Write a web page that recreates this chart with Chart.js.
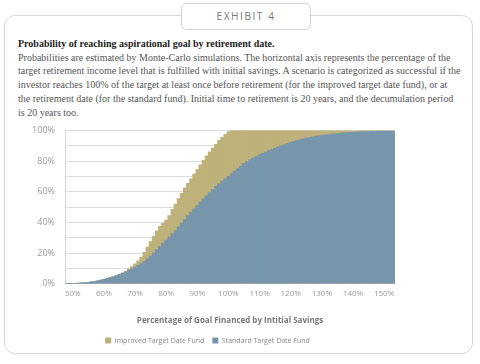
<!DOCTYPE html>
<html>
<head>
<meta charset="utf-8">
<script src="https://cdn.jsdelivr.net/npm/chart.js@4"></script>
<style>
  body { margin: 0; background: #fff; width: 480px; height: 364px; position: relative; overflow: hidden; }
  .card { position: absolute; left: 4px; top: 15px; width: 467px; height: 337px; border: 1px solid #d8d8d8; border-radius: 11px; }
  .tab { position: absolute; left: 181px; top: 3px; width: 128px; height: 25px; border: 1px solid #d4d4d4; border-radius: 6px; background: #fff;
         font-family: "Open Sans", sans-serif; font-size: 10px; letter-spacing: 1.6px; color: #777; text-align: center; line-height: 25px; }
  .txt { position: absolute; left: 18px; top: 37px; width: 427px; font-family: "Liberation Serif", serif; font-size: 10px; line-height: 13.7px; color: #555; }
  .txt b { color: #222; }
  .ln { text-align: justify; text-align-last: justify; white-space: nowrap; }
  .box { position: absolute; left: 20px; top: 115px; width: 384px; height: 239px; }
</style>
</head>
<body>
<div class="card"></div>
<div class="tab">EXHIBIT 4</div>
<div class="txt">
  <div><b>Probability of reaching aspirational goal by retirement date.</b></div>
  <div class="ln">Probabilities are estimated by Monte-Carlo simulations. The horizontal axis represents the percentage of the</div>
  <div class="ln">target retirement income level that is fulfilled with initial savings. A scenario is categorized as successful if the</div>
  <div class="ln">investor reaches 100% of the target at least once before retirement (for the improved target date fund), or at</div>
  <div class="ln">the retirement date (for the standard fund). Initial time to retirement is 20 years, and the decumulation period</div>
  <div>is 20 years too.</div>
</div>
<div class="box"><canvas id="js--chart"></canvas></div>
<script>
// percentage of goal financed by initial savings
const categories = [48, 49, 50, 51, 52, 53, 54, 55, 56, 57, 58, 59, 60, 61, 62, 63, 64, 65, 66, 67, 68, 69,
    70, 71, 72, 73, 74, 75, 76, 77, 78, 79, 80, 81, 82, 83, 84, 85, 86, 87, 88, 89,
    90, 91, 92, 93, 94, 95, 96, 97, 98, 99, 100, 101, 102, 103, 104, 105, 106, 107, 108, 109,
    110, 111, 112, 113, 114, 115, 116, 117, 118, 119, 120, 121, 122, 123, 124, 125, 126, 127, 128, 129,
    130, 131, 132, 133, 134, 135, 136, 137, 138, 139, 140, 141, 142, 143, 144, 145, 146, 147, 148, 149,
    150, 151, 152, 153];

const standard = [0.1, 0.1, 0.2, 0.3, 0.4, 0.6, 0.8, 1.0, 1.3, 1.6, 2.0, 2.4, 2.9, 3.4, 4.0, 4.6, 5.3, 6.1, 6.9, 7.8, 8.8, 9.8,
    10.9, 12.0, 13.1, 14.7, 16.3, 18.0, 20.1, 22.3, 24.5, 26.5, 28.5, 30.5, 32.7, 34.9, 37.1, 39.6, 42.0, 44.5, 46.7, 48.9,
    51.0, 53.2, 55.4, 57.5, 59.5, 61.5, 63.5, 65.2, 66.9, 68.5, 70.0, 71.8, 73.5, 75.1, 76.8, 78.5, 79.7, 80.9, 82.0, 83.0,
    84.0, 85.0, 85.9, 86.8, 87.7, 88.5, 89.3, 90.1, 90.8, 91.6, 92.3, 92.9, 93.5, 94.0, 94.5, 95.0, 95.4, 95.8, 96.1, 96.5,
    96.8, 97.1, 97.3, 97.6, 97.8, 98.0, 98.2, 98.4, 98.5, 98.7, 98.8, 98.9, 99.0, 99.1, 99.2, 99.3, 99.4, 99.4, 99.5, 99.5,
    99.6, 99.6, 99.7, 99.7];

const improved = [0.1, 0.1, 0.2, 0.3, 0.4, 0.6, 0.8, 1.0, 1.3, 1.6, 2.0, 2.4, 2.9, 3.4, 4.0, 4.7, 5.4, 6.2, 7.1, 8.2, 9.6, 11.2,
    13.0, 15.0, 17.5, 20.5, 24.0, 27.5, 31.0, 34.5, 37.5, 39.5, 41.5, 44.5, 48.5, 52.0, 55.5, 59.0, 62.5, 65.5, 68.5, 71.5,
    74.5, 77.5, 80.5, 83.5, 86.0, 88.5, 91.0, 93.5, 95.5, 97.5, 99.2, 100, 100, 100, 100, 100, 100, 100, 100, 100,
    100, 100, 100, 100, 100, 100, 100, 100, 100, 100, 100, 100, 100, 100, 100, 100, 100, 100, 100, 100,
    100, 100, 100, 100, 100, 100, 100, 100, 100, 100, 100, 100, 100, 100, 100, 100, 100, 100, 100, 100,
    100, 100, 100, 100];

const xTicks = [50, 60, 70, 80, 90, 100, 110, 120, 130, 140, 150];
const yTicks = [0, 20, 40, 60, 80, 100];

const gold = 'rgb(190, 177, 122)';
const blue = 'rgb(119, 150, 171)';

const data = {
    labels: categories,
    datasets: [
        {
            label: 'Standard Target Date Fund',
            data: standard,
            backgroundColor: blue,
            grouped: false,
            barPercentage: 1,
            categoryPercentage: 1,
            borderWidth: 0
        },
        {
            label: 'Improved Target Date Fund',
            data: improved,
            backgroundColor: gold,
            grouped: false,
            barPercentage: 1,
            categoryPercentage: 1,
            borderWidth: 0
        }
    ]
};

const config = {
    type: 'bar',
    data: data,
    options: {
        responsive: true,
        maintainAspectRatio: false,
        animation: false,
        layout: { padding: { top: 3, right: 9, bottom: 0, left: 0 } },
        plugins: {
            tooltip: { enabled: false },
            legend: {
                position: 'bottom',
                reverse: true,
                labels: {
                    boxWidth: 6, boxHeight: 6, padding: 8,
                    color: '#888',
                    font: { family: 'Open Sans', size: 7 }
                }
            }
        },
        scales: {
            x: {
                grid: { display: false, drawTicks: false },
                border: { display: true, color: '#d6d6d6' },
                ticks: {
                    autoSkip: false, maxRotation: 0, padding: 5,
                    color: '#999',
                    font: { family: 'Open Sans', size: 8 },
                    callback: function (v) {
                        const c = categories[v];
                        return xTicks.includes(c) ? c + '%' : '';
                    }
                },
                title: {
                    display: true,
                    text: 'Percentage of Goal Financed by Intitial Savings',
                    color: '#777',
                    font: { family: 'Open Sans', size: 8, weight: 'bold' },
                    padding: { top: 13, bottom: 3 }
                }
            },
            y: {
                min: 0, max: 100,
                afterFit: function (s) { s.width = 45; },
                grid: { color: '#dcdcdc', drawTicks: false },
                border: { display: true, color: '#d6d6d6' },
                ticks: {
                    stepSize: 10, padding: 10,
                    color: '#999',
                    font: { family: 'Open Sans', size: 9 },
                    callback: function (v) { return yTicks.includes(v) ? v + '%' : ''; }
                }
            }
        }
    }
};

new Chart(document.getElementById('js--chart'), config);
</script>
</body>
</html>
